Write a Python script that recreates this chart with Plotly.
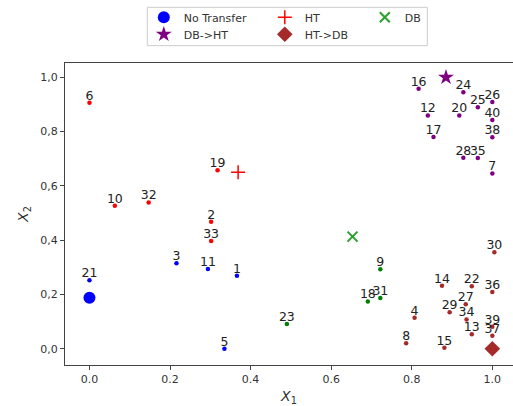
import plotly.graph_objects as go

# ---- data ----
ht_ids = ["6", "10", "32", "19", "2", "33"]
ht_x = [0.0, 0.063, 0.147, 0.318, 0.302, 0.302]
ht_y = [0.906, 0.527, 0.539, 0.658, 0.468, 0.397]

nt_ids = ["21", "3", "11", "1", "5"]
nt_x = [0.0, 0.216, 0.294, 0.366, 0.335]
nt_y = [0.252, 0.315, 0.294, 0.269, 0.0]

db_ids = ["23", "18", "9", "31"]
db_x = [0.490, 0.691, 0.722, 0.722]
db_y = [0.091, 0.174, 0.293, 0.187]

dbht_ids = ["16", "24", "26", "25", "12", "20", "40", "17", "38", "28", "35", "7"]
dbht_x = [0.817, 0.928, 1.0, 0.964, 0.840, 0.918, 1.0, 0.854, 1.0, 0.928, 0.964, 1.0]
dbht_y = [0.958, 0.945, 0.909, 0.890, 0.859, 0.859, 0.843, 0.780, 0.779, 0.704, 0.703, 0.646]

htdb_ids = ["30", "14", "22", "36", "27", "29", "34", "4", "13", "39", "37", "8", "15"]
htdb_x = [1.005, 0.875, 0.949, 1.0, 0.934, 0.894, 0.936, 0.807, 0.949, 1.0, 1.0, 0.786, 0.881]
htdb_y = [0.355, 0.232, 0.230, 0.209, 0.164, 0.134, 0.108, 0.114, 0.053, 0.081, 0.048, 0.020, 0.004]

centre_names = ["No Transfer", "HT", "DB", "DB->HT", "HT->DB"]
centre_x = [0.0, 0.369, 0.653, 0.885, 1.0]
centre_y = [0.188, 0.650, 0.413, 1.0, 0.0]

x_tickvals = [0.0, 0.2, 0.4, 0.6, 0.8, 1.0]
x_ticktext = ["0.0", "0.2", "0.4", "0.6", "0.8", "1.0"]
y_tickvals = [0.0, 0.2, 0.4, 0.6, 0.8, 1.0]
y_ticktext = ["0,0", "0,2", "0,4", "0,6", "0,8", "1,0"]

FONT = "DejaVu Sans"
TXT = "#222222"
AX = "#444444"

fig = go.Figure()

groups = [
    (nt_ids, nt_x, nt_y, "#0000ff"),
    (ht_ids, ht_x, ht_y, "#ff0000"),
    (db_ids, db_x, db_y, "#008000"),
    (dbht_ids, dbht_x, dbht_y, "#800080"),
    (htdb_ids, htdb_x, htdb_y, "#a52a2a"),
]
for ids, xs, ys, col in groups:
    fig.add_trace(go.Scatter(
        x=xs, y=ys, mode="markers",
        marker=dict(size=4.5, color=col),
        showlegend=False, cliponaxis=False, hoverinfo="skip",
    ))
    fig.add_trace(go.Scatter(
        x=xs, y=ys, text=ids, mode="text",
        textposition="top center",
        textfont=dict(family=FONT, size=12.5, color=TXT),
        showlegend=False, cliponaxis=False, hoverinfo="skip",
    ))

styles = {
    "No Transfer": dict(symbol="circle", size=12, color="#0000ff"),
    "HT": dict(symbol="cross-thin", size=10, color="#ff0000", line=dict(color="#ff0000", width=1.5)),
    "DB": dict(symbol="x-thin", size=10, color="#2ca02c", line=dict(color="#2ca02c", width=2)),
    "DB->HT": dict(symbol="star", size=12, color="#800080"),
    "HT->DB": dict(symbol="diamond", size=12, color="#a52a2a"),
}
# one legend per entry so that the column layout of the reference is kept
legend_ids = ["legend", "legend2", "legend3", "legend4", "legend5"]
legend_slot = {  # (symbol centre x px, row centre y px)
    "No Transfer": (163.3, 17.3),
    "HT": (284.3, 17.3),
    "DB": (384.3, 17.3),
    "DB->HT": (163.3, 34.3),
    "HT->DB": (284.3, 34.3),
}
for name, cx, cy, lid in zip(centre_names, centre_x, centre_y, legend_ids):
    fig.add_trace(go.Scatter(
        x=[cx], y=[cy], mode="markers", name=name,
        marker=styles[name], legend=lid, cliponaxis=False,
    ))

W, H = 513, 406
ml, mr, mt, mb = 65, 0, 63, 41
pw, ph = W - ml - mr, H - mt - mb


def px_to_paper_x(px):
    return (px - ml) / pw


def py_to_paper_y(py):
    return (H - mb - py) / ph


leg_common = dict(
    orientation="h", xref="container", yref="container",
    xanchor="left", yanchor="middle",
    font=dict(family=FONT, size=11, color="#333333"),
    bgcolor="rgba(0,0,0,0)", borderwidth=0, itemsizing="trace",
)
legends = {}
for name, lid in zip(centre_names, legend_ids):
    sx, sy = legend_slot[name]
    legends[lid] = dict(**leg_common, x=(sx - 19.5) / W, y=1 - sy / H)

fig.update_layout(
    width=W, height=H,
    margin=dict(l=ml, r=mr, t=mt, b=mb),
    paper_bgcolor="white", plot_bgcolor="white",
    font=dict(family=FONT, color="#333333"),
    **legends,
    xaxis=dict(
        range=[-0.0607, 1.0513], tickvals=x_tickvals, ticktext=x_ticktext,
        showgrid=False, zeroline=False, showline=True, mirror=True,
        linecolor=AX, linewidth=1.3, ticks="outside", ticklen=4, tickcolor=AX,
        tickfont=dict(family=FONT, size=11, color="#333333"),
        title=dict(text="<i>X</i><sub>1</sub>", font=dict(family=FONT, size=14, color="#333333"), standoff=6),
    ),
    yaxis=dict(
        range=[-0.060, 1.0527], tickvals=y_tickvals, ticktext=y_ticktext,
        showgrid=False, zeroline=False, showline=True, mirror=False,
        linecolor=AX, linewidth=1.3, ticks="outside", ticklen=4, tickcolor=AX,
        tickfont=dict(family=FONT, size=11, color="#333333"),
        title=dict(text="<i>X</i><sub>2</sub>", font=dict(family=FONT, size=14, color="#333333"), standoff=8),
    ),
    shapes=[dict(
        type="rect", xref="paper", yref="paper", layer="above",
        x0=px_to_paper_x(147.3), x1=px_to_paper_x(427.3),
        y0=py_to_paper_y(45.7), y1=py_to_paper_y(7.3),
        line=dict(color="#cccccc", width=1), fillcolor="rgba(255,255,255,0.8)",
    )],
)

fig.write_html("out.html")
